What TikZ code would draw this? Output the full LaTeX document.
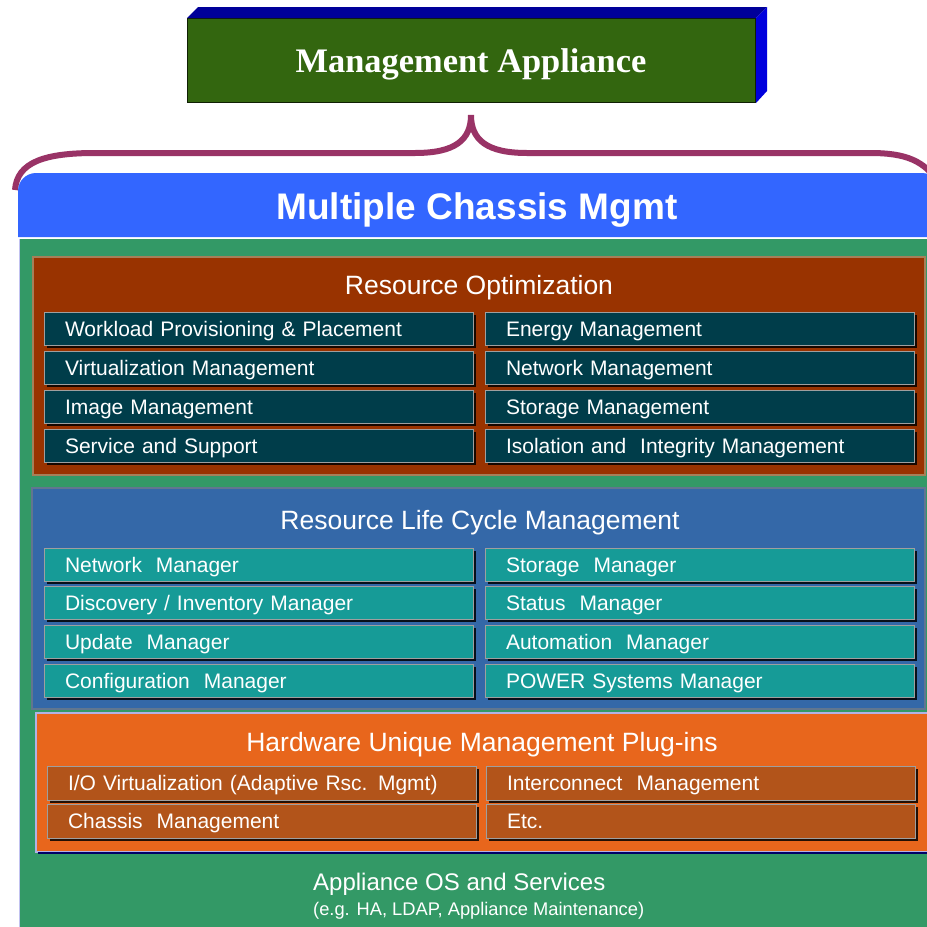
\documentclass[tikz,border=0pt]{standalone}
\usepackage{fontspec}
\setmainfont{Liberation Sans}
\newfontfamily\applfont{Liberation Serif}
\usetikzlibrary{positioning,shadows}

\definecolor{applgreen}{HTML}{33660F}
\definecolor{topblue}{HTML}{000099}
\definecolor{sideblue}{HTML}{0000DD}
\definecolor{bracecol}{HTML}{993366}
\definecolor{chassisblue}{HTML}{3366FF}
\definecolor{basegreen}{HTML}{339966}
\definecolor{robrown}{HTML}{993300}
\definecolor{roitem}{HTML}{003D4A}
\definecolor{lcblue}{HTML}{3468A8}
\definecolor{lcitem}{HTML}{169B97}
\definecolor{hworange}{HTML}{E8661C}
\definecolor{hwitem}{HTML}{B2541A}

\tikzset{
  panel/.style={anchor=north west, inner sep=0pt, outer sep=0pt, line width=2pt},
  paneltitle/.style={text=white, inner sep=0pt, text height=19pt, text depth=0pt,
    font=\fontsize{26.5}{30}\selectfont},
  itembox/.style={anchor=north west, minimum width=429pt, minimum height=33pt,
    text width=387pt, inner xsep=21pt, inner ysep=0pt, outer sep=0pt, align=left,
    text height=15pt, text depth=0pt, text=white, font=\fontsize{21}{25}\selectfont,
    draw=gray!75, line width=1pt,
    drop shadow={shadow xshift=2.5pt, shadow yshift=-2.5pt, fill=black, opacity=0.85}},
  roitembox/.style={itembox, fill=roitem},
  lcitembox/.style={itembox, fill=lcitem},
  hwitembox/.style={itembox, fill=hwitem, minimum height=34pt}
}

\begin{document}
\begin{tikzpicture}[x=1pt,y=-1pt]
\useasboundingbox (0,0) rectangle (927,927);

% management appliance box
\node[fill=applgreen, draw=black!70!applgreen, line width=1pt, minimum width=568pt,
  minimum height=84pt, inner sep=0pt, anchor=north west] (appl) at (187,18) {};
\fill[topblue] (appl.north west) -- ++(11,-11) -- ([shift={(11,-11)}]appl.north east)
  -- (appl.north east) -- cycle;
\fill[sideblue] (appl.north east) -- ++(11,-11) -- ++(0,84) -- (appl.south east) -- cycle;
\node[text=white, inner sep=0pt, text height=23pt, text depth=0pt,
  font=\applfont\bfseries\fontsize{34.4}{38}\selectfont] (appltitle) at (471,61) {Management Appliance};

% brace
\coordinate (bracetip) at (471,115);
\draw[bracecol, line width=6pt] (15,190) .. controls (17,162) and (45,153) .. (95,153)
  -- (415,153) .. controls (455,153) and (471,140) .. (bracetip)
  .. controls (471,140) and (487,153) .. (527,153)
  -- (870,153) .. controls (905,153) and (925,160) .. (940,185);

% multiple chassis band
\fill[chassisblue] (18,237) [rounded corners=18pt] |- (940,173) [sharp corners] -- (940,237) -- cycle;
\node[text=white, inner sep=0pt, text height=26.5pt, text depth=0pt,
  font=\bfseries\fontsize{37}{42}\selectfont] (chassis) at (477,206) {Multiple Chassis Mgmt};

% base
\fill[basegreen] (20,239) rectangle (940,940);
\draw[gray!40!blue!30, line width=1.5pt] (19.5,239) -- (19.5,940);

% resource optimization
\node[panel, fill=robrown, draw=brown!60!gray, minimum width=892pt, minimum height=218pt] (ro) at (33,257) {};
\node[paneltitle] (rotitle) at (479,285) {Resource Optimization};
\node[roitembox] (ro1) at (44,312) {Workload Provisioning \& Placement};
\node[roitembox, below=6pt of ro1] (ro2) {Virtualization Management};
\node[roitembox, below=6pt of ro2] (ro3) {Image Management};
\node[roitembox, below=6pt of ro3] (ro4) {Service and Support};
\node[roitembox, right=12pt of ro1] (ro5) {Energy Management};
\node[roitembox, right=12pt of ro2] (ro6) {Network Management};
\node[roitembox, right=12pt of ro3] (ro7) {Storage Management};
\node[roitembox, right=12pt of ro4] (ro8) {Isolation and\ \ Integrity Management};

% resource life cycle
\node[panel, fill=lcblue, draw=gray!60!lcblue, minimum width=893pt, minimum height=221pt] (lc) at (32,488) {};
\node[paneltitle] (lctitle) at (480,520) {Resource Life Cycle Management};
\node[lcitembox] (lc1) at (44,548) {Network\ \ Manager};
\node[lcitembox, below=5.7pt of lc1] (lc2) {Discovery / Inventory Manager};
\node[lcitembox, below=5.7pt of lc2] (lc3) {Update\ \ Manager};
\node[lcitembox, below=5.7pt of lc3] (lc4) {Configuration\ \ Manager};
\node[lcitembox, right=12pt of lc1] (lc5) {Storage\ \ Manager};
\node[lcitembox, right=12pt of lc2] (lc6) {Status\ \ Manager};
\node[lcitembox, right=12pt of lc3] (lc7) {Automation\ \ Manager};
\node[lcitembox, right=12pt of lc4] (lc8) {POWER Systems Manager};

% hardware plug-ins
\node[panel, fill=hworange, draw=gray!50!blue!40, minimum width=900pt, minimum height=139pt] (hw) at (36,713) {};
\draw[black!60!blue, line width=2pt] (38,853) -- (940,853);
\node[paneltitle] (hwtitle) at (482,742) {Hardware Unique Management Plug-ins};
\node[hwitembox] (hw1) at (47,766) {I/O Virtualization (Adaptive Rsc. Mgmt)};
\node[hwitembox, below=4pt of hw1] (hw2) {Chassis\ \ Management};
\node[hwitembox, right=10pt of hw1] (hw3) {Interconnect\ \ Management};
\node[hwitembox, right=10pt of hw2] (hw4) {Etc.};

% appliance os
\node[text=white, inner sep=0pt, anchor=base west, font=\fontsize{24}{28}\selectfont] (os) at (313,890) {Appliance OS and Services};
\node[text=white, inner sep=0pt, anchor=base west, font=\fontsize{18.3}{22}\selectfont] (osnote) at (313,915) {(e.g. HA, LDAP, Appliance Maintenance)};
\end{tikzpicture}
\end{document}
